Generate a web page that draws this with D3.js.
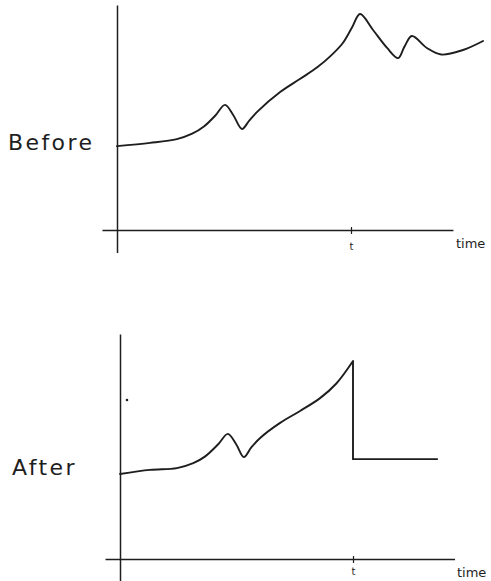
<!DOCTYPE html>
<html>
<head>
<meta charset="utf-8">
<script src="https://cdn.jsdelivr.net/npm/d3@7"></script>
<style>
  html, body { margin: 0; padding: 0; background: #fff; }
  svg { display: block; }
</style>
</head>
<body>
<script>
// ---- data (time units: 0 = origin, 70 = marked instant t; values in arbitrary units) ----
const panelLabels = ["Before", "After"];
const axisLabel = "time";
const tickLabel = "t";
const markTime = 70;

const beforeTime  = [0, 9.9, 17.9, 22.5, 26, 29.5, 32.3, 34.8, 37.4, 39.5, 42, 48.8, 54.7, 60, 64, 67.5, 70.3, 72.7, 76.6, 80.8, 84.1, 86, 88.2, 92.7, 97, 103.5, 109.5];
const beforeValue = [37.3, 38.7, 40.4, 42.8, 46, 51, 55.6, 51, 44.9, 48.5, 52.6, 61.3, 67.1, 72.4, 77.5, 83, 90, 96, 88.9, 80.9, 76.4, 81.5, 86.2, 80.9, 78.0, 80, 84];

const afterTime  = [0, 9, 17.1, 22, 25.5, 29.5, 32.4, 34.9, 37.2, 39.4, 42.1, 48.1, 54.1, 60.1, 65, 70, 70, 95.5];
const afterValue = [37.8, 39.6, 40.4, 42.6, 45.5, 51, 55.6, 51, 45.3, 49.5, 53.8, 60.5, 65.8, 71.5, 78, 88, 44.4, 44.4];
const afterSmoothCount = 16; // points drawn smoothly; the rest are straight segments

const afterDotTime = [2.1];
const afterDotValue = [70.7];

// ---- layout ----
const W = 491, H = 581;
const ink = "#1e1e1e";

const svg = d3.select("body").append("svg")
  .attr("width", W).attr("height", H);

const panels = [
  { label: panelLabels[0], x0: 117, xMark: 351, y0: 230, pxPerV: 2.25, labelX: 8, labelY: 150, timeX: 456, timeY: 248, tickY: 13,
    time: beforeTime, value: beforeValue, smooth: beforeTime.length, dotT: [], dotV: [] },
  { label: panelLabels[1], x0: 120, xMark: 353, y0: 559, pxPerV: 2.25, labelX: 12, labelY: 475, timeX: 457, timeY: 577, tickY: 9,
    time: afterTime, value: afterValue, smooth: afterSmoothCount, dotT: afterDotTime, dotV: afterDotValue }
];

panels.forEach(p => {
  const g = svg.append("g");
  const x = d3.scaleLinear().domain([0, markTime]).range([p.x0, p.xMark]);
  const y = d3.scaleLinear().domain([0, 100]).range([p.y0, p.y0 - 100 * p.pxPerV]);

  // x axis
  const xAxisScale = x.copy().domain([-4.5, 100.5]).range([x(-4.5), x(100.5)]);
  const xAxis = g.append("g")
    .attr("transform", `translate(0,${p.y0})`)
    .call(d3.axisBottom(xAxisScale).tickValues([markTime]).tickSizeInner(4).tickSizeOuter(0)
      .tickFormat(() => tickLabel));
  xAxis.select(".domain").attr("stroke", ink).attr("stroke-width", 1.6);
  xAxis.selectAll(".tick line").attr("stroke", ink).attr("stroke-width", 1.2).attr("y1", -3);
  xAxis.selectAll(".tick text").attr("fill", ink).attr("font-family", "DejaVu Sans")
    .attr("font-size", 10).attr("y", p.tickY).attr("dy", "0.71em");

  // y axis
  const yAxisScale = y.copy().domain([-10, 100]).range([y(-10), y(100)]);
  const yAxis = g.append("g")
    .attr("transform", `translate(${p.x0},0)`)
    .call(d3.axisLeft(yAxisScale).tickValues([]).tickSizeOuter(0));
  yAxis.select(".domain").attr("stroke", ink).attr("stroke-width", 1.5);

  // curve
  const pts = p.time.map((t, i) => [t, p.value[i]]);
  const smoothLine = d3.line().x(d => x(d[0])).y(d => y(d[1])).curve(d3.curveCatmullRom.alpha(0.5));
  g.append("path")
    .attr("d", smoothLine(pts.slice(0, p.smooth)))
    .attr("fill", "none").attr("stroke", ink).attr("stroke-width", 1.9)
    .attr("stroke-linejoin", "round").attr("stroke-linecap", "round");
  if (p.smooth < pts.length) {
    const straight = d3.line().x(d => x(d[0])).y(d => y(d[1])).curve(d3.curveLinear);
    g.append("path")
      .attr("d", straight(pts.slice(p.smooth - 1)))
      .attr("fill", "none").attr("stroke", ink).attr("stroke-width", 1.9)
      .attr("stroke-linejoin", "miter");
  }

  // stray dot
  g.selectAll("circle.dot").data(p.dotT.map((t, i) => [t, p.dotV[i]])).enter()
    .append("circle").attr("class", "dot")
    .attr("cx", d => x(d[0])).attr("cy", d => y(d[1])).attr("r", 1.3).attr("fill", ink);

  // labels
  g.append("text").attr("x", p.labelX).attr("y", p.labelY)
    .attr("font-family", "DejaVu Sans").attr("font-size", 22).attr("letter-spacing", 2.4)
    .attr("fill", ink).text(p.label);
  g.append("text").attr("x", p.timeX).attr("y", p.timeY)
    .attr("font-family", "DejaVu Sans").attr("font-size", 13)
    .attr("fill", ink).text(axisLabel);
});
</script>
</body>
</html>
